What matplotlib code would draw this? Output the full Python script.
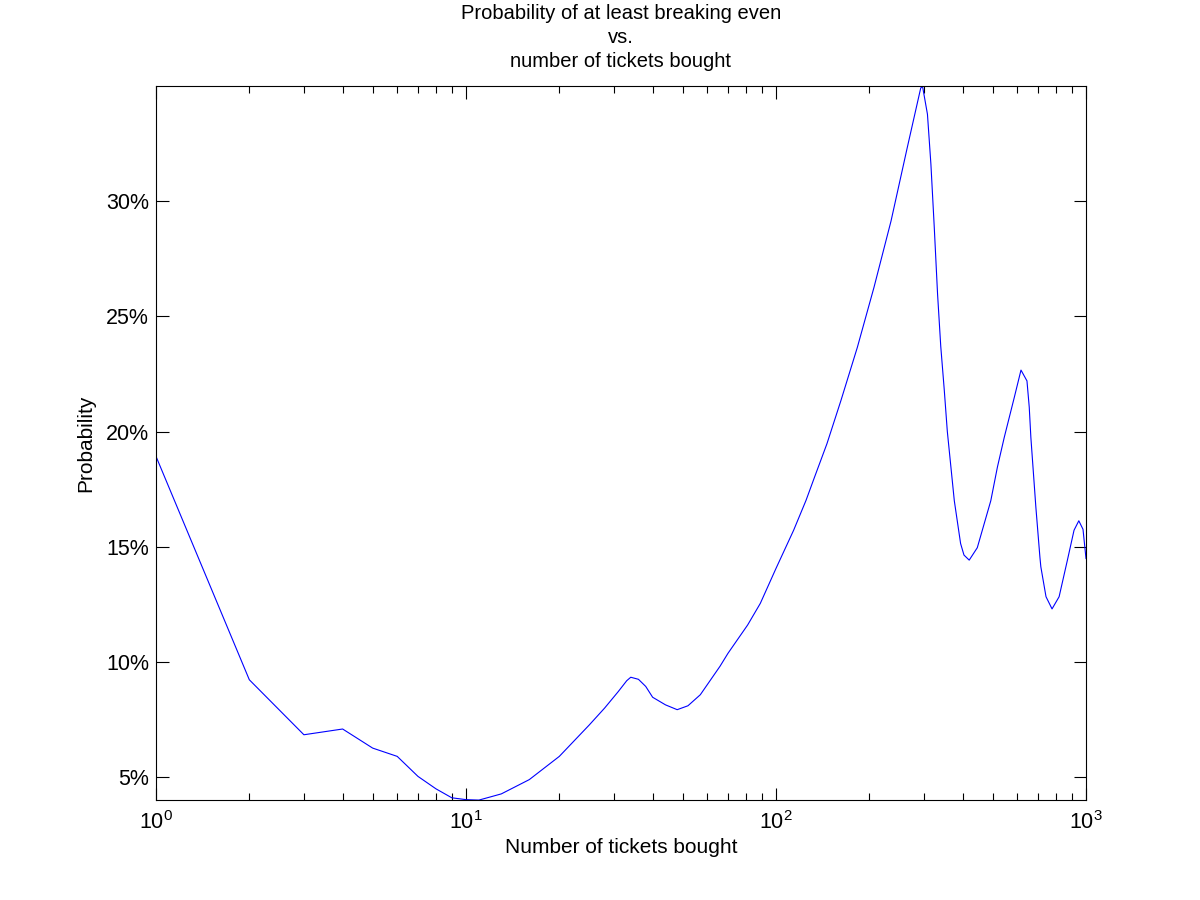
import numpy as np
import matplotlib.pyplot as plt
from matplotlib.ticker import FuncFormatter, LogLocator

# Probability (%) of at least breaking even
tickets = [1, 2, 3, 4, 5, 6, 7, 8, 9, 10, 11, 12, 13, 16, 20, 25, 28, 31, 33,
           34, 36, 38, 40, 44, 48, 52, 57, 66, 70, 81, 89, 100, 114, 125, 133,
           146, 162, 183, 207, 235, 265, 293, 297, 308, 316, 324, 332, 340,
           349, 357, 376, 394, 404, 420, 446, 493, 518, 545, 587, 617, 645,
           656, 664, 689, 710, 715, 743, 777, 819, 871, 915, 948, 978, 1000]
prob_pct = [18.92, 9.21, 6.82, 7.07, 6.24, 5.88, 5.01, 4.47, 4.08, 4.00, 3.98,
            4.12, 4.25, 4.87, 5.88, 7.25, 7.98, 8.70, 9.17, 9.32, 9.23, 8.92,
            8.45, 8.12, 7.91, 8.08, 8.56, 9.80, 10.36, 11.59, 12.53, 14.05,
            15.71, 17.01, 18.00, 19.47, 21.35, 23.66, 26.26, 29.15, 32.33,
            34.93, 35.00, 33.79, 31.62, 28.87, 25.98, 23.70, 21.80, 20.00,
            16.99, 15.13, 14.63, 14.41, 14.95, 16.99, 18.46, 19.75, 21.48,
            22.67, 22.20, 21.06, 19.74, 16.72, 14.55, 14.12, 12.82, 12.29,
            12.82, 14.41, 15.71, 16.12, 15.75, 14.48]
y_ticks = [5, 10, 15, 20, 25, 30]

plt.rcParams['font.family'] = ['Liberation Sans', 'DejaVu Sans']
plt.rcParams['mathtext.fontset'] = 'custom'
plt.rcParams['mathtext.rm'] = 'Liberation Sans'
plt.rcParams['mathtext.it'] = 'Liberation Sans'

fig = plt.figure(figsize=(12, 9), dpi=100)
ax = fig.add_axes([0.13, 0.111, 0.775, 0.793])

ax.plot(tickets, prob_pct, color='blue', linewidth=0.8)
ax.set_xscale('log')
ax.set_xlim(1, 1000)
ax.set_ylim(min(prob_pct), max(prob_pct))

ax.set_yticks(y_ticks)
ax.yaxis.set_major_formatter(FuncFormatter(lambda v, p: f"{v:g}%"))
ax.xaxis.set_minor_locator(LogLocator(base=10, subs=np.arange(2, 10)))

ax.tick_params(which='both', direction='in', top=True, right=True,
               width=0.8, labelsize=15.5)
ax.tick_params(which='major', length=9)
ax.tick_params(which='minor', length=5)
ax.tick_params(axis='x', which='major', pad=8)
ax.tick_params(axis='y', which='major', pad=5)
for s in ax.spines.values():
    s.set_linewidth(0.8)

ax.set_xlabel('Number of tickets bought', fontsize=15, labelpad=3)
ax.set_ylabel('Probability', fontsize=15, labelpad=8)
ax.set_title('Probability of at least breaking even\nvs.\nnumber of tickets bought',
             fontsize=14.5, linespacing=1.33, pad=14)

fig.savefig('out.png', dpi=100)
